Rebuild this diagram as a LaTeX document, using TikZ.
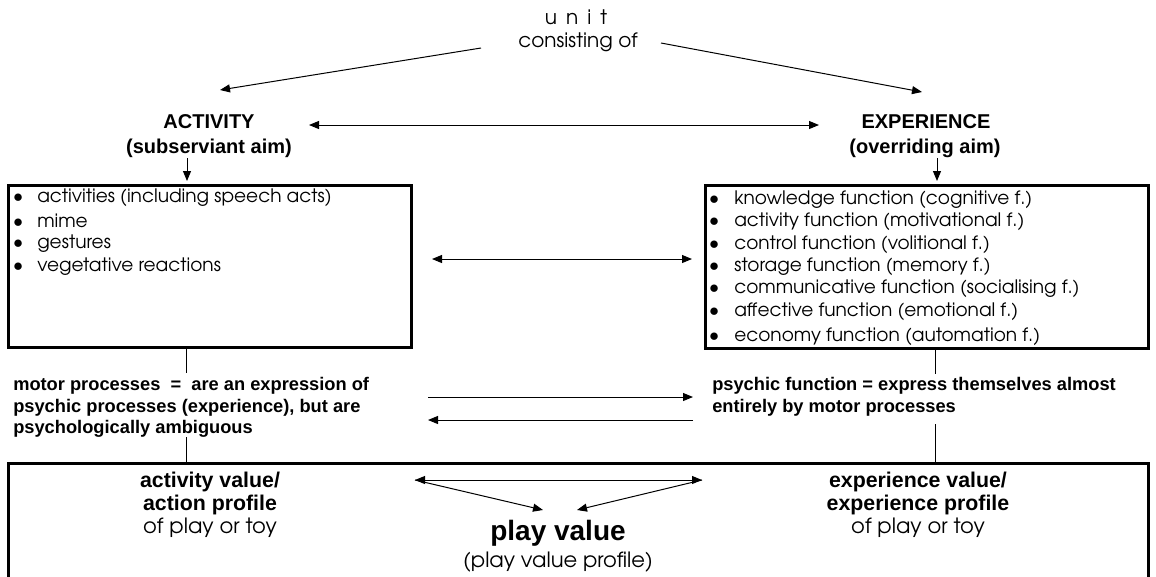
\documentclass[tikz,border=0pt]{standalone}
\usepackage{fontspec}
\setmainfont{TeX Gyre Adventor}
\newfontfamily\arialf{Liberation Sans}
\usetikzlibrary{arrows.meta}
\newcommand\bul[1]{\makebox[#1][l]{$\bullet$}}
\begin{document}
\begin{tikzpicture}[x=0.75pt,y=-0.75pt,
  tip/.tip={Triangle[length=7.5pt,width=6pt]},
  conn/.style={line width=0.75pt,-tip},
  biconn/.style={line width=0.75pt,tip-tip},
  plainline/.style={line width=0.75pt},
  frame/.style={line width=2.25pt},
  reg/.style={font=\fontsize{13.9}{17}\selectfont,inner sep=0pt},
  ttl/.style={font=\fontsize{15}{18}\selectfont,inner sep=0pt},
  head/.style={font=\arialf\bfseries\fontsize{15}{18}\selectfont,inner sep=0pt},
  bld/.style={font=\arialf\bfseries\fontsize{13.7}{16.1}\selectfont,inner sep=0pt},
  lbl/.style={font=\arialf\bfseries\fontsize{16}{17.25}\selectfont,inner sep=0pt},
  lreg/.style={font=\fontsize{15.8}{18}\selectfont,inner sep=0pt},
  item/.style={reg,anchor=west},
]
\useasboundingbox (0,0) rectangle (1156,576);
% title
\node[ttl] (unit) at (576,17) {u\hspace{0.45em}n\hspace{0.45em}i\hspace{0.45em}t};
\node[ttl] (cons) at (578,42) {consisting of};
\coordinate (uL) at (481,48);
\coordinate (uR) at (661,43);
% headings
\node[head] (act) at (209,122) {ACTIVITY};
\node[head] (actaim) at (209,148) {(subserviant aim)};
\node[head] (exp) at (926,122) {EXPERIENCE};
\node[head] (expaim) at (925,148) {(overriding aim)};
\coordinate (actT) at (220,90);
\coordinate (expT) at (922,92);
\draw[conn] (uL) -- (actT);
\draw[conn] (uR) -- (expT);
\coordinate (hL) at (309,125);
\coordinate (hR) at (819,125);
\draw[biconn] (hL) -- (hR);
% boxes
\draw[frame] (8,185) rectangle (411,347);
\draw[frame] (705,185) rectangle (1148,348);
\coordinate (lboxT) at (187,181);
\coordinate (rboxT) at (937,181);
\coordinate (actB) at (187,158);
\coordinate (expB) at (937,158);
\draw[conn] (actB) -- (lboxT);
\draw[conn] (expB) -- (rboxT);
% left list
\node[item] (l1) at (13,198) {\bul{18pt}activities (including speech acts)};
\node[item] (l2) at (13,221) {\bul{18pt}mime};
\node[item] (l3) at (13,244) {\bul{18pt}gestures};
\node[item] (l4) at (13,267) {\bul{18pt}vegetative reactions};
% right list
\node[item] (r1) at (709,200) {\bul{18.75pt}knowledge function (cognitive f.)};
\node[item] (r2) at (709,222) {\bul{18.75pt}activity function (motivational f.)};
\node[item] (r3) at (709,245) {\bul{18.75pt}control function (volitional f.)};
\node[item] (r4) at (709,267) {\bul{18.75pt}storage function (memory f.)};
\node[item] (r5) at (709,289) {\bul{18.75pt}communicative function (socialising f.)};
\node[item] (r6) at (709,312) {\bul{18.75pt}affective function (emotional f.)};
\node[item] (r7) at (709,337) {\bul{18.75pt}economy function (automation f.)};
% middle arrow
\coordinate (mL) at (432,259);
\coordinate (mR) at (692,259);
\draw[biconn] (mL) -- (mR);
% motor / psychic
\node[bld,anchor=west,align=left] (motor) at (13,407.5) {motor processes \ =\ \ are an expression of\\psychic processes (experience), but are\\psychologically ambiguous};
\node[bld,anchor=west,align=left] (psychic) at (712,397) {psychic function = express themselves almost\\entirely by motor processes};
\coordinate (lv1a) at (186,348);
\coordinate (lv1b) at (186,373);
\coordinate (rv1a) at (935,349);
\coordinate (rv1b) at (935,374);
\draw[plainline] (lv1a) -- (lv1b);
\draw[plainline] (rv1a) -- (rv1b);
\coordinate (pR1) at (693,397);
\coordinate (pL1) at (428,397);
\coordinate (pR2) at (693,420);
\coordinate (pL2) at (428,420);
\draw[conn] (pL1) -- (pR1);
\draw[conn] (pR2) -- (pL2);
\coordinate (lv2a) at (186,437);
\coordinate (lv2b) at (186,462);
\coordinate (rv2a) at (935,424);
\coordinate (rv2b) at (935,462);
\draw[plainline] (lv2a) -- (lv2b);
\draw[plainline] (rv2a) -- (rv2b);
% bottom frame
\draw[frame] (8,580) -- (8,463) -- (1148,463) -- (1148,580);
\node[lbl,align=center] (actval) at (210,493.5) {activity value/\\action profile};
\node[lreg] (actpt) at (210,528) {of play or toy};
\node[lbl,align=center] (expval) at (918,493.5) {experience value/\\experience profile};
\node[lreg] (exppt) at (918,528) {of play or toy};
\node[font=\arialf\bfseries\fontsize{21}{24}\selectfont,inner sep=0pt] (pv) at (558,533) {play value};
\node[lreg] (pvp) at (558,562) {(play value profile)};
\coordinate (bL) at (415,480);
\coordinate (bR) at (702,480);
\coordinate (bML) at (543,510);
\coordinate (bMR) at (577,510);
\draw[biconn] (bL) -- (bR);
\draw[conn] (bL) -- (bML);
\draw[conn] (bR) -- (bMR);
\end{tikzpicture}
\end{document}
